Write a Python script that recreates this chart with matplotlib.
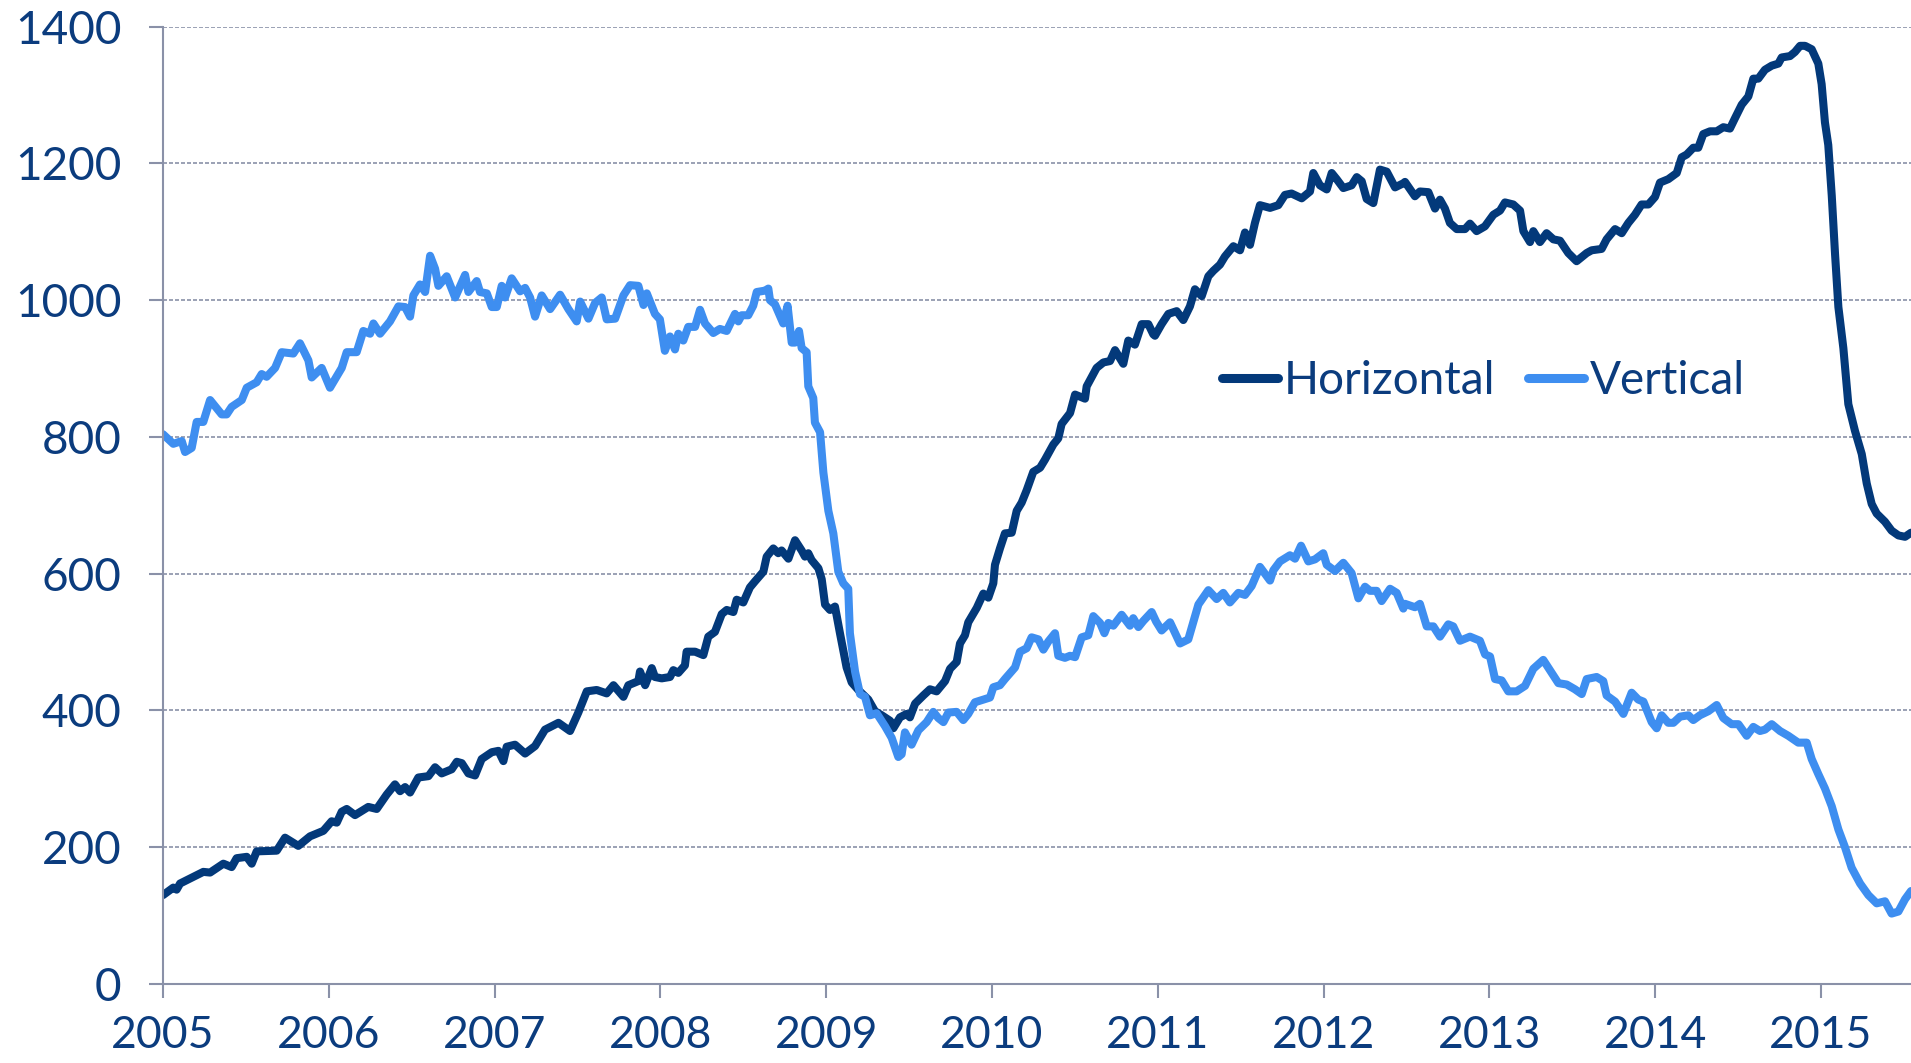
import matplotlib
matplotlib.use("Agg")
import matplotlib.pyplot as plt

# weekly-ish readings, x in decimal years
horiz_t = [2005.000, 2005.062, 2005.082, 2005.103, 2005.243, 2005.284, 2005.364, 2005.414, 2005.444,
           2005.505, 2005.535, 2005.565, 2005.686, 2005.736, 2005.816, 2005.887, 2005.967, 2006.017,
           2006.048, 2006.078, 2006.108, 2006.158, 2006.238, 2006.289, 2006.349, 2006.399, 2006.430,
           2006.460, 2006.490, 2006.540, 2006.601, 2006.641, 2006.681, 2006.741, 2006.772, 2006.802,
           2006.842, 2006.882, 2006.922, 2006.983, 2007.023, 2007.053, 2007.073, 2007.123, 2007.184,
           2007.244, 2007.304, 2007.385, 2007.455, 2007.505, 2007.556, 2007.616, 2007.676, 2007.717,
           2007.777, 2007.807, 2007.867, 2007.877, 2007.908, 2007.948, 2007.967, 2008.008, 2008.058,
           2008.078, 2008.108, 2008.148, 2008.158, 2008.209, 2008.259, 2008.289, 2008.329, 2008.370,
           2008.400, 2008.440, 2008.460, 2008.500, 2008.540, 2008.571, 2008.621, 2008.641, 2008.681,
           2008.711, 2008.731, 2008.772, 2008.812, 2008.852, 2008.872, 2008.892, 2008.912, 2008.953,
           2008.973, 2008.993, 2009.023, 2009.053, 2009.083, 2009.123, 2009.154, 2009.194, 2009.254,
           2009.294, 2009.335, 2009.385, 2009.405, 2009.445, 2009.485, 2009.505, 2009.536, 2009.586,
           2009.626, 2009.666, 2009.717, 2009.747, 2009.787, 2009.807, 2009.837, 2009.857, 2009.908,
           2009.948, 2009.978, 2010.008, 2010.018, 2010.048, 2010.078, 2010.119, 2010.149, 2010.179,
           2010.209, 2010.249, 2010.290, 2010.320, 2010.370, 2010.400, 2010.420, 2010.471, 2010.501,
           2010.561, 2010.571, 2010.631, 2010.672, 2010.712, 2010.742, 2010.792, 2010.822, 2010.862,
           2010.903, 2010.943, 2010.973, 2010.983, 2011.023, 2011.064, 2011.114, 2011.154, 2011.194,
           2011.224, 2011.265, 2011.305, 2011.335, 2011.375, 2011.405, 2011.456, 2011.496, 2011.526,
           2011.556, 2011.586, 2011.616, 2011.677, 2011.727, 2011.767, 2011.807, 2011.868, 2011.918,
           2011.938, 2011.978, 2012.019, 2012.049, 2012.079, 2012.119, 2012.169, 2012.200, 2012.230,
           2012.260, 2012.300, 2012.340, 2012.381, 2012.431, 2012.481, 2012.491, 2012.551, 2012.581,
           2012.632, 2012.672, 2012.702, 2012.732, 2012.762, 2012.803, 2012.853, 2012.883, 2012.923,
           2012.973, 2013.024, 2013.064, 2013.094, 2013.144, 2013.185, 2013.205, 2013.245, 2013.265,
           2013.305, 2013.345, 2013.386, 2013.426, 2013.476, 2013.526, 2013.587, 2013.617, 2013.677,
           2013.707, 2013.758, 2013.798, 2013.838, 2013.878, 2013.918, 2013.959, 2013.999, 2014.029,
           2014.079, 2014.130, 2014.160, 2014.190, 2014.230, 2014.260, 2014.290, 2014.331, 2014.371,
           2014.411, 2014.451, 2014.481, 2014.522, 2014.562, 2014.592, 2014.622, 2014.662, 2014.703,
           2014.743, 2014.763, 2014.813, 2014.843, 2014.874, 2014.904, 2014.944, 2014.984, 2015.004,
           2015.024, 2015.044, 2015.065, 2015.085, 2015.105, 2015.135, 2015.165, 2015.205, 2015.246,
           2015.276, 2015.306, 2015.336, 2015.386, 2015.426, 2015.467, 2015.507, 2015.543]
horiz_v = [130, 141, 138, 147, 164, 163, 176, 171, 184,
           186, 176, 194, 195, 214, 202, 216, 224, 238,
           236, 252, 256, 247, 259, 256, 277, 292, 282,
           288, 280, 302, 304, 317, 308, 314, 325, 323,
           308, 305, 329, 339, 341, 326, 347, 350, 337,
           348, 372, 382, 370, 397, 428, 430, 425, 437,
           420, 437, 443, 457, 437, 462, 449, 447, 449,
           459, 455, 466, 486, 486, 481, 508, 515, 541,
           547, 544, 562, 558, 580, 589, 603, 625, 637,
           630, 634, 622, 649, 634, 625, 630, 620, 608,
           592, 555, 547, 552, 513, 463, 441, 430, 416,
           399, 393, 385, 374, 390, 395, 390, 410, 422,
           431, 428, 443, 461, 471, 498, 510, 529, 550,
           571, 565, 586, 613, 637, 659, 660, 692, 704,
           722, 749, 755, 767, 789, 798, 819, 835, 862,
           856, 874, 901, 909, 911, 927, 907, 941, 935,
           965, 965, 950, 948, 965, 980, 984, 971, 991,
           1016, 1006, 1035, 1043, 1052, 1064, 1079, 1073, 1099,
           1081, 1113, 1139, 1135, 1139, 1154, 1156, 1149, 1159,
           1186, 1168, 1162, 1186, 1177, 1164, 1168, 1180, 1174,
           1148, 1142, 1191, 1188, 1165, 1171, 1173, 1152, 1159,
           1158, 1134, 1147, 1134, 1113, 1104, 1104, 1112, 1101,
           1108, 1125, 1131, 1143, 1140, 1131, 1101, 1085, 1101,
           1085, 1098, 1089, 1087, 1069, 1057, 1069, 1073, 1075,
           1089, 1104, 1098, 1113, 1125, 1140, 1140, 1151, 1172,
           1177, 1186, 1209, 1213, 1223, 1223, 1243, 1247, 1247,
           1253, 1251, 1266, 1286, 1298, 1324, 1324, 1337, 1343,
           1346, 1355, 1357, 1363, 1372, 1372, 1367, 1346, 1316,
           1260, 1227, 1153, 1067, 990, 930, 848, 809, 775,
           732, 702, 688, 676, 663, 656, 654, 660]

vert_t = [2005.000, 2005.062, 2005.113, 2005.133, 2005.173, 2005.203, 2005.243, 2005.284, 2005.354,
          2005.384, 2005.414, 2005.475, 2005.505, 2005.565, 2005.595, 2005.625, 2005.676, 2005.716,
          2005.786, 2005.826, 2005.877, 2005.897, 2005.957, 2006.007, 2006.078, 2006.108, 2006.168,
          2006.208, 2006.249, 2006.269, 2006.309, 2006.369, 2006.420, 2006.460, 2006.490, 2006.510,
          2006.550, 2006.581, 2006.611, 2006.641, 2006.661, 2006.711, 2006.762, 2006.822, 2006.842,
          2006.892, 2006.912, 2006.953, 2006.983, 2007.013, 2007.043, 2007.063, 2007.103, 2007.154,
          2007.184, 2007.214, 2007.244, 2007.284, 2007.335, 2007.395, 2007.445, 2007.495, 2007.516,
          2007.566, 2007.606, 2007.646, 2007.676, 2007.727, 2007.777, 2007.817, 2007.867, 2007.898,
          2007.918, 2007.967, 2007.997, 2008.027, 2008.058, 2008.088, 2008.108, 2008.138, 2008.168,
          2008.209, 2008.239, 2008.269, 2008.319, 2008.359, 2008.400, 2008.450, 2008.470, 2008.490,
          2008.530, 2008.560, 2008.581, 2008.631, 2008.651, 2008.661, 2008.691, 2008.741, 2008.767,
          2008.792, 2008.812, 2008.836, 2008.852, 2008.882, 2008.892, 2008.922, 2008.932, 2008.963,
          2008.983, 2009.013, 2009.043, 2009.073, 2009.103, 2009.133, 2009.143, 2009.174, 2009.204,
          2009.234, 2009.264, 2009.304, 2009.355, 2009.395, 2009.435, 2009.455, 2009.475, 2009.515,
          2009.556, 2009.606, 2009.646, 2009.676, 2009.707, 2009.737, 2009.787, 2009.827, 2009.857,
          2009.897, 2009.948, 2009.988, 2010.008, 2010.048, 2010.078, 2010.139, 2010.169, 2010.209,
          2010.239, 2010.280, 2010.310, 2010.340, 2010.380, 2010.400, 2010.440, 2010.471, 2010.501,
          2010.541, 2010.581, 2010.611, 2010.652, 2010.678, 2010.702, 2010.732, 2010.782, 2010.832,
          2010.852, 2010.883, 2010.913, 2010.963, 2010.990, 2011.023, 2011.074, 2011.134, 2011.184,
          2011.245, 2011.305, 2011.355, 2011.395, 2011.435, 2011.486, 2011.526, 2011.566, 2011.616,
          2011.677, 2011.697, 2011.737, 2011.797, 2011.828, 2011.864, 2011.908, 2011.948, 2011.998,
          2012.019, 2012.069, 2012.119, 2012.169, 2012.210, 2012.250, 2012.280, 2012.320, 2012.350,
          2012.401, 2012.441, 2012.481, 2012.491, 2012.551, 2012.581, 2012.622, 2012.662, 2012.702,
          2012.752, 2012.782, 2012.823, 2012.883, 2012.943, 2012.974, 2013.004, 2013.034, 2013.074,
          2013.114, 2013.164, 2013.215, 2013.265, 2013.325, 2013.376, 2013.416, 2013.466, 2013.516,
          2013.557, 2013.587, 2013.647, 2013.687, 2013.707, 2013.758, 2013.808, 2013.858, 2013.898,
          2013.929, 2013.979, 2014.009, 2014.039, 2014.079, 2014.110, 2014.150, 2014.200, 2014.230,
          2014.270, 2014.321, 2014.371, 2014.411, 2014.461, 2014.502, 2014.552, 2014.592, 2014.632,
          2014.662, 2014.703, 2014.753, 2014.803, 2014.863, 2014.914, 2014.944, 2014.984, 2015.024,
          2015.065, 2015.105, 2015.145, 2015.185, 2015.236, 2015.286, 2015.336, 2015.386, 2015.426,
          2015.467, 2015.507, 2015.543]
vert_v = [804, 790, 794, 778, 784, 822, 822, 854, 833,
          833, 844, 854, 872, 880, 892, 888, 901, 924,
          922, 937, 912, 887, 901, 872, 901, 924, 924,
          955, 951, 966, 951, 969, 991, 990, 976, 1007,
          1023, 1012, 1065, 1046, 1021, 1035, 1004, 1037, 1012,
          1028, 1012, 1010, 990, 990, 1021, 1004, 1032, 1013,
          1018, 1004, 976, 1007, 987, 1008, 987, 969, 998,
          973, 996, 1004, 972, 973, 1007, 1022, 1021, 993,
          1010, 980, 972, 926, 947, 928, 951, 941, 961,
          961, 986, 966, 952, 958, 955, 980, 969, 978,
          978, 992, 1012, 1014, 1017, 1000, 994, 966, 992,
          938, 938, 955, 930, 924, 874, 857, 821, 807,
          748, 692, 659, 603, 586, 578, 513, 457, 424,
          420, 393, 396, 377, 360, 332, 336, 368, 350,
          371, 383, 398, 389, 383, 397, 398, 386, 395,
          412, 416, 419, 434, 437, 446, 463, 486, 491,
          507, 504, 489, 501, 513, 480, 477, 480, 478,
          507, 510, 538, 528, 513, 528, 524, 540, 524,
          535, 522, 531, 544, 530, 517, 529, 498, 504,
          555, 576, 563, 572, 558, 572, 569, 582, 610,
          590, 605, 618, 627, 622, 641, 618, 621, 630,
          613, 604, 616, 601, 564, 581, 575, 575, 560,
          578, 572, 549, 556, 551, 556, 523, 523, 508,
          526, 523, 502, 508, 502, 482, 479, 446, 444,
          428, 428, 436, 461, 474, 455, 440, 438, 431,
          424, 446, 449, 443, 422, 413, 395, 426, 416,
          413, 383, 374, 393, 382, 382, 391, 393, 386,
          393, 399, 408, 389, 380, 380, 363, 376, 370,
          372, 380, 370, 363, 353, 353, 329, 307, 286,
          260, 226, 200, 170, 147, 130, 118, 121, 103,
          106, 124, 136]

years = list(range(2005, 2016))
yticks = [0, 200, 400, 600, 800, 1000, 1200, 1400]

navy = "#03397a"
light = "#3e8ef0"
text_col = "#0b3c7e"
axis_col = "#8a91a8"

plt.rcParams["font.family"] = ["Lato", "DejaVu Sans"]

fig = plt.figure(figsize=(19.11, 10.63), dpi=100)
ax = fig.add_axes([0.0853, 0.0743, 0.9147, 0.9006])

ax.plot(horiz_t, horiz_v, color=navy, lw=5.8, solid_joinstyle="round", solid_capstyle="round", label="Horizontal")
ax.plot(vert_t, vert_v, color=light, lw=5.8, solid_joinstyle="round", solid_capstyle="round", label="Vertical")

ax.set_xlim(2005, 2015.543)
ax.set_ylim(0, 1400)
ax.set_xticks(years)
ax.set_xticklabels([str(y) for y in years])
ax.set_yticks(yticks)

ax.grid(axis="y", color=axis_col, lw=1.2, linestyle=(0, (2.4, 1.2)))
ax.set_axisbelow(True)
for s in ["top", "right"]:
    ax.spines[s].set_visible(False)
for s in ["left", "bottom"]:
    ax.spines[s].set_color(axis_col)
    ax.spines[s].set_linewidth(1.5)

ax.tick_params(axis="both", direction="out", length=10, width=1.5, color=axis_col,
               labelsize=33, labelcolor=text_col, pad=20)
ax.tick_params(axis="x", labelsize=32, pad=12)

leg = ax.legend(loc="center left", bbox_to_anchor=(0.6058, 0.630), ncol=2, frameon=False,
                handlelength=1.22, handletextpad=0.13, columnspacing=0.72,
                borderpad=0, borderaxespad=0, prop={"size": 33})
for t in leg.get_texts():
    t.set_color(text_col)
for h in leg.get_lines():
    h.set_linewidth(6.5)

fig.savefig("out.png", dpi=100)
